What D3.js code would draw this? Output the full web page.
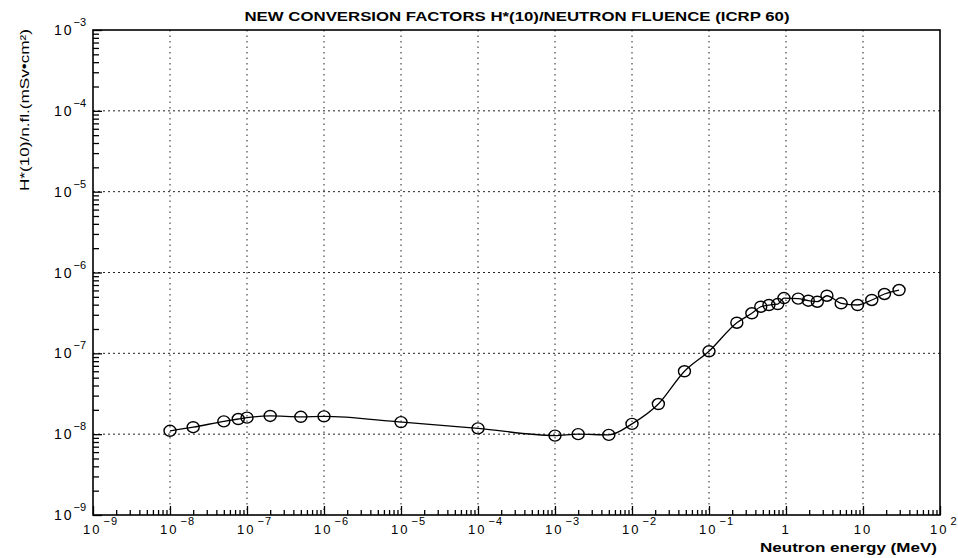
<!DOCTYPE html>
<html>
<head>
<meta charset="utf-8">
<script src="https://cdn.jsdelivr.net/npm/d3@7"></script>
<style>
  body { margin: 0; background: #fff; }
  svg { display: block; font-family: "Liberation Sans", "DejaVu Sans", sans-serif; }
</style>
</head>
<body>
<svg id="chart" width="958" height="558"></svg>
<script>
// neutron energy (MeV) and H*(10)/fluence (mSv cm2)
const energies = [1e-8, 2e-8, 5e-8, 7.7e-8, 1e-7, 2e-7, 5e-7, 1e-6, 1e-5, 1e-4,
    1e-3, 2e-3, 5e-3, 1e-2, 2.2e-2, 4.8e-2, 0.1, 0.23, 0.36, 0.47, 0.6, 0.78,
    0.94, 1.44, 1.95, 2.55, 3.4, 5.2, 8.5, 13, 19, 29.4];
const factors = [1.10e-8, 1.22e-8, 1.44e-8, 1.54e-8, 1.60e-8, 1.68e-8, 1.64e-8, 1.66e-8, 1.41e-8, 1.18e-8,
    9.6e-9, 1.0e-8, 9.8e-9, 1.34e-8, 2.36e-8, 6.0e-8, 1.06e-7, 2.39e-7, 3.13e-7, 3.77e-7, 3.96e-7, 4.07e-7,
    4.83e-7, 4.75e-7, 4.48e-7, 4.35e-7, 5.16e-7, 4.16e-7, 3.96e-7, 4.57e-7, 5.42e-7, 6.07e-7];

const xExponents = [-9, -8, -7, -6, -5, -4, -3, -2, -1, 0, 1, 2];
const yExponents = [-9, -8, -7, -6, -5, -4, -3];

const titleText = "NEW CONVERSION FACTORS H*(10)/NEUTRON FLUENCE (ICRP 60)";
const yTitle = "H*(10)/n.fl.(mSv\u2022cm\u00B2)";
const xTitle = "Neutron energy (MeV)";

let chart = d3.select("#chart"),
    margin = {top: 30, right: 18, bottom: 43, left: 93},
    width = +chart.attr("width") - margin.left - margin.right,
    height = +chart.attr("height") - margin.top - margin.bottom;

let x = d3.scaleLog().domain([1e-9, 1e2]).range([0, width]);
let y = d3.scaleLog().domain([1e-9, 1e-3]).range([height, 0]);

let g = chart.append("g")
    .attr("transform", "translate(" + margin.left + "," + margin.top + ")");

// minor tick values: 2..9 of every decade
function minors(lo, hi) {
    let out = [];
    for (let e = lo; e < hi; e++) {
        for (let k = 2; k <= 9; k++) out.push(k * Math.pow(10, e));
    }
    return out;
}
let xMajor = xExponents.map(e => Math.pow(10, e));
let yMajor = yExponents.map(e => Math.pow(10, e));

// dotted grid
g.append("g")
    .selectAll("line")
    .data(xMajor.slice(1, -1))
    .enter().append("line")
    .attr("x1", d => x(d)).attr("x2", d => x(d))
    .attr("y1", 0).attr("y2", height)
    .attr("stroke", "#222")
    .attr("stroke-width", 1)
    .attr("stroke-dasharray", "1.5,4");

g.append("g")
    .selectAll("line")
    .data(yMajor.slice(1, -1))
    .enter().append("line")
    .attr("x1", 0).attr("x2", width)
    .attr("y1", d => y(d)).attr("y2", d => y(d))
    .attr("stroke", "#222")
    .attr("stroke-width", 1)
    .attr("stroke-dasharray", "2,3");

// axes with inward ticks
g.append("g")
    .attr("transform", "translate(0," + height + ")")
    .call(d3.axisBottom(x).tickValues(minors(-9, 2)).tickSize(-5).tickFormat(""))
    .call(a => a.select(".domain").remove());
g.append("g")
    .attr("transform", "translate(0," + height + ")")
    .call(d3.axisBottom(x).tickValues(xMajor).tickSize(-9).tickFormat(""))
    .call(a => a.select(".domain").remove());
g.append("g")
    .call(d3.axisLeft(y).tickValues(minors(-9, -3)).tickSize(-6).tickFormat(""))
    .call(a => a.select(".domain").remove());
g.append("g")
    .call(d3.axisLeft(y).tickValues(yMajor).tickSize(-9).tickFormat(""))
    .call(a => a.select(".domain").remove());
g.selectAll(".tick line").attr("stroke", "#000").attr("stroke-width", 1.3);

// frame
g.append("rect")
    .attr("width", width).attr("height", height)
    .attr("fill", "none")
    .attr("stroke", "#000")
    .attr("stroke-width", 1.6);

// x tick labels
xExponents.forEach(function(e) {
    let t = g.append("text")
        .attr("y", height + 19)
        .attr("font-size", 13)
        .attr("fill", "#000");
    if (e === 0 || e === 1) {
        t.attr("x", x(Math.pow(10, e))).attr("text-anchor", "middle")
            .attr("letter-spacing", 2)
            .text(e === 0 ? "1" : "10");
    } else {
        t.attr("x", x(Math.pow(10, e)) - 10).attr("letter-spacing", 2).text("10");
        t.append("tspan")
            .attr("dy", -9)
            .attr("dx", 2)
            .attr("font-size", 11)
            .attr("letter-spacing", 1)
            .text(e > 0 ? e : "\u2212" + (-e));
    }
});

// y tick labels
yExponents.forEach(function(e) {
    let t = g.append("text")
        .attr("x", -39)
        .attr("y", y(Math.pow(10, e)) + 5)
        .attr("font-size", 14)
        .attr("letter-spacing", 2)
        .attr("fill", "#000")
        .text("10");
    t.append("tspan")
        .attr("dy", -9)
        .attr("font-size", 11)
        .attr("letter-spacing", 0)
        .text("\u2212" + (-e));
});

// curve and markers
let pts = energies.map((e, i) => ({E: e, V: factors[i]}));
let line = d3.line()
    .x(d => x(d.E))
    .y(d => y(d.V))
    .curve(d3.curveMonotoneX);

g.append("path")
    .datum(pts)
    .attr("fill", "none")
    .attr("stroke", "#000")
    .attr("stroke-width", 1.3)
    .attr("d", line);

g.selectAll("ellipse.pt")
    .data(pts)
    .enter().append("ellipse")
    .attr("class", "pt")
    .attr("cx", d => x(d.E))
    .attr("cy", d => y(d.V))
    .attr("rx", 6)
    .attr("ry", 5.5)
    .attr("fill", "none")
    .attr("stroke", "#000")
    .attr("stroke-width", 1.4);

// titles
chart.append("text")
    .attr("x", 517)
    .attr("y", 21)
    .attr("text-anchor", "middle")
    .attr("font-size", 13)
    .attr("font-weight", "bold")
    .attr("textLength", 545)
    .attr("lengthAdjust", "spacingAndGlyphs")
    .text(titleText);

chart.append("text")
    .attr("transform", "translate(29,110) rotate(-90)")
    .attr("text-anchor", "middle")
    .attr("font-size", 12)
    .attr("textLength", 162)
    .attr("lengthAdjust", "spacingAndGlyphs")
    .text(yTitle);

chart.append("text")
    .attr("x", 937)
    .attr("y", 552)
    .attr("text-anchor", "end")
    .attr("font-size", 12)
    .attr("font-weight", "bold")
    .attr("textLength", 177)
    .attr("lengthAdjust", "spacingAndGlyphs")
    .text(xTitle);
</script>
</body>
</html>
